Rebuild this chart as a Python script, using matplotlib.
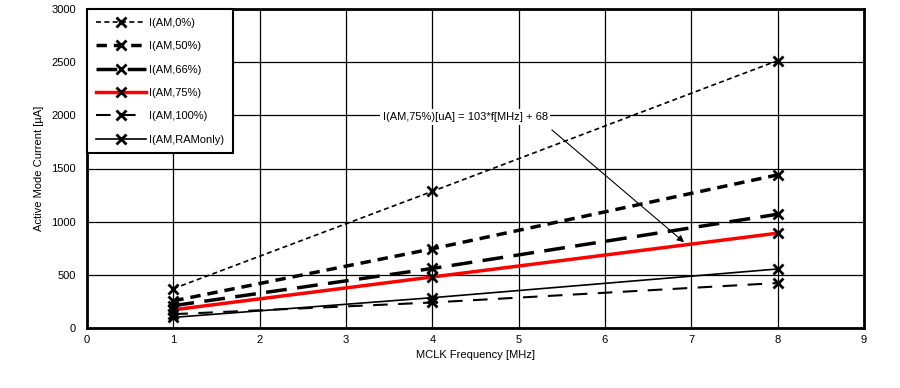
import matplotlib
matplotlib.use("Agg")
import matplotlib.pyplot as plt

plt.rcParams['font.family'] = ['Liberation Sans', 'DejaVu Sans']

freq = [1, 4, 8]
am0 = [370, 1285, 2515]
am50 = [255, 745, 1440]
am66 = [210, 560, 1070]
am75 = [171, 480, 892]
am100 = [130, 240, 423]
ramonly = [100, 285, 555]

labels = ["I(AM,0%)", "I(AM,50%)", "I(AM,66%)", "I(AM,75%)", "I(AM,100%)", "I(AM,RAMonly)"]

fig = plt.figure(figsize=(9, 3.88), dpi=100)
ax = fig.add_axes([87/900, 60/388, 777/900, 319/388])

mk = dict(marker="x", markersize=7, markeredgewidth=2, markeredgecolor="black")
ax.plot(freq, am0, color="black", lw=1.2, dashes=(3, 2), label=labels[0], **mk)
ax.plot(freq, am50, color="black", lw=2.5, dashes=(3, 2), label=labels[1], **mk)
ax.plot(freq, am66, color="black", lw=2.5, dashes=(6, 3), label=labels[2], **mk)
ax.plot(freq, am75, color="red", lw=2.5, label=labels[3], **mk)
ax.plot(freq, am100, color="black", lw=1.5, dashes=(7, 5), label=labels[4], **mk)
ax.plot(freq, ramonly, color="black", lw=1.2, label=labels[5], **mk)

ax.set_xlim(0, 9)
ax.set_ylim(0, 3000)
ax.set_xticks(range(0, 10))
ax.set_yticks(range(0, 3001, 500))
ax.grid(True, color="black", lw=0.9)
ax.set_axisbelow(True)
for s in ax.spines.values():
    s.set_linewidth(2)
ax.tick_params(labelsize=8, length=0)
ax.tick_params(axis="x", pad=5)
ax.tick_params(axis="y", pad=8)
ax.set_xlabel("MCLK Frequency [MHz]", fontsize=8, labelpad=4)
ax.set_ylabel("Active Mode Current [\u00b5A]", fontsize=8, labelpad=5)

ax.text(4.38, 1984, "I(AM,75%)[uA] = 103*f[MHz] + 68", fontsize=8, ha="center", va="center",
        bbox=dict(facecolor="white", edgecolor="none", pad=2))
ax.annotate("", xy=(6.94, 790), xytext=(5.36, 1880),
            arrowprops=dict(arrowstyle="-|>", color="black", lw=0.8, mutation_scale=10))

leg = ax.legend(loc="upper left", fontsize=8, fancybox=False, framealpha=1,
                borderaxespad=0, handlelength=4.5, handletextpad=0.3,
                labelspacing=1.2, borderpad=0.8)
leg.get_frame().set_edgecolor("black")
leg.get_frame().set_linewidth(1.5)

fig.savefig("out.png", dpi=100)
